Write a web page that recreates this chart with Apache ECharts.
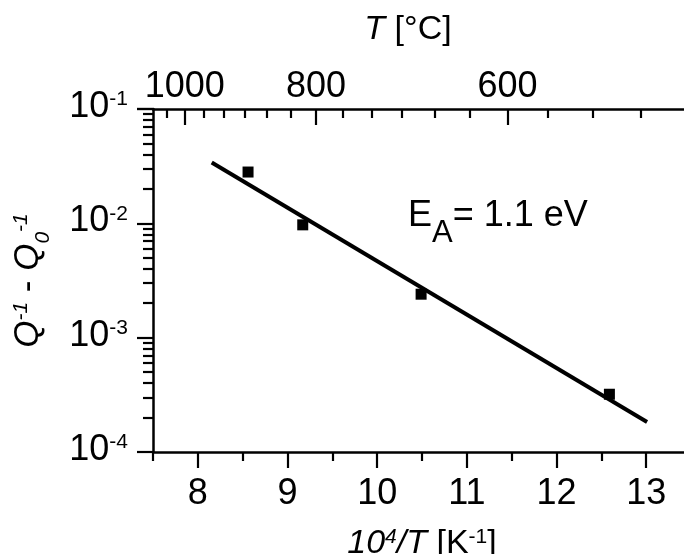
<!DOCTYPE html>
<html>
<head>
<meta charset="utf-8">
<script src="https://cdn.jsdelivr.net/npm/echarts@6/dist/echarts.min.js"></script>
<style>
  html, body { margin: 0; padding: 0; background: #fff; }
  #chart { width: 684px; height: 554px; }
</style>
</head>
<body>
<div id="chart"></div>
<script>
// measured points (10^4/T vs Q^-1 - Q0^-1)
const invT = [8.56, 9.17, 10.49, 12.59];
const dampQ = [0.0281, 0.0097, 0.0024, 0.00032];
// Arrhenius fit line end points
const fitX = [8.155, 13.01];
const fitY = [0.034, 0.000183];
// bottom axis ticks
const xMajor = [8, 9, 10, 11, 12, 13];
const xMinor = [7.5, 8.5, 9.5, 10.5, 11.5, 12.5, 13.5];
// top axis ticks in degC
const tMajor = [1000, 800, 600];
const tMinor = [1033.3, 966.7, 933.3, 900, 866.7, 833.3, 766.7, 733.3, 700, 666.7, 633.3, 566.7, 533.3, 500];

const toInv = t => 1e4 / (t + 273.15);
const FONT = 'Liberation Sans';
const black = '#000';

const chart = echarts.init(document.getElementById('chart'));

const gridBox = { left: 153, top: 109, right: -7, bottom: 102, outerBoundsMode: 'none', containLabel: false };

const supRich = {
    n: { fontSize: 36, fontFamily: FONT, color: black, verticalAlign: 'top', lineHeight: 40 },
    e: { fontSize: 21, fontFamily: FONT, color: black, verticalAlign: 'top', lineHeight: 22 }
};

const option = {
    animation: false,
    grid: [
        Object.assign({}, gridBox),
        Object.assign({}, gridBox)
    ],
    xAxis: [
        {   // bottom, major ticks + labels
            type: 'value', gridIndex: 0, position: 'bottom',
            min: 7.5, max: 13.5,
            splitLine: { show: false },
            axisLine: { lineStyle: { color: black, width: 2.5 } },
            axisTick: { customValues: xMajor, length: 16, lineStyle: { color: black, width: 2.2 } },
            axisLabel: { customValues: xMajor, fontSize: 36, fontFamily: FONT, color: black, margin: 24 },
            name: '{i|10}{sp|4}{i|/T}{t| [K}{s2|-1}{t|]}',
            nameLocation: 'middle', nameGap: 75,
            nameTextStyle: {
                rich: {
                    i: { fontSize: 34, fontFamily: FONT, fontStyle: 'italic', color: black, verticalAlign: 'top', lineHeight: 38 },
                    sp: { fontSize: 21, fontFamily: FONT, fontStyle: 'italic', color: black, verticalAlign: 'top', lineHeight: 22 },
                    t: { fontSize: 34, fontFamily: FONT, color: black, verticalAlign: 'top', lineHeight: 38 },
                    s2: { fontSize: 21, fontFamily: FONT, color: black, verticalAlign: 'top', lineHeight: 22 }
                }
            }
        },
        {   // top, degC major ticks + labels
            type: 'value', gridIndex: 0, position: 'top',
            min: 7.5, max: 13.5,
            splitLine: { show: false },
            axisLine: { lineStyle: { color: black, width: 2.5 } },
            axisTick: { inside: true, customValues: tMajor.map(toInv), length: 16, lineStyle: { color: black, width: 2.2 } },
            axisLabel: {
                customValues: tMajor.map(toInv), fontSize: 36, fontFamily: FONT, color: black, margin: 4,
                formatter: v => String(Math.round(1e4 / v - 273.15))
            },
            name: '{i|T}{t| [°C]}',
            nameLocation: 'middle', nameGap: 62,
            nameTextStyle: {
                padding: [0, 28, 0, 0],
                rich: {
                    i: { fontSize: 34, fontFamily: FONT, fontStyle: 'italic', color: black },
                    t: { fontSize: 34, fontFamily: FONT, color: black }
                }
            }
        },
        {   // bottom minor ticks
            type: 'value', gridIndex: 1, position: 'bottom',
            min: 7.5, max: 13.5,
            splitLine: { show: false },
            axisLine: { show: false },
            axisTick: { customValues: xMinor, length: 9, lineStyle: { color: black, width: 2.2 } },
            axisLabel: { show: false }
        },
        {   // top minor ticks
            type: 'value', gridIndex: 1, position: 'top',
            min: 7.5, max: 13.5,
            splitLine: { show: false },
            axisLine: { show: false },
            axisTick: { inside: true, customValues: tMinor.map(toInv), length: 9, lineStyle: { color: black, width: 2.2 } },
            axisLabel: { show: false }
        }
    ],
    yAxis: [
        {
            type: 'log', gridIndex: 0, logBase: 10,
            min: 1e-4, max: 1e-1,
            splitLine: { show: false },
            axisLine: { show: true, lineStyle: { color: black, width: 2.5 } },
            axisTick: { show: true, length: 16, lineStyle: { color: black, width: 2.2 } },
            minorTick: { show: true, splitNumber: 9, length: 10, lineStyle: { color: black, width: 2.2 } },
            axisLabel: {
                margin: 25,
                formatter: v => '{n|10}{e|' + Math.round(Math.log10(v)) + '}',
                rich: supRich
            },
            name: '{q|Q}{sp|-1}{t| - }{q|Q}{sb|0}{sp|-1}',
            nameLocation: 'middle', nameGap: 102,
            nameTextStyle: {
                rich: {
                    q: { fontSize: 35, fontFamily: FONT, fontStyle: 'italic', color: black, verticalAlign: 'top', lineHeight: 40 },
                    t: { fontSize: 35, fontFamily: FONT, color: black, verticalAlign: 'top', lineHeight: 40 },
                    sp: { fontSize: 21, fontFamily: FONT, fontStyle: 'italic', color: black, verticalAlign: 'top', lineHeight: 22 },
                    sb: { fontSize: 21, fontFamily: FONT, fontStyle: 'italic', color: black, verticalAlign: 'top', lineHeight: 22, padding: [22, 0, 0, 0] }
                }
            }
        },
        { type: 'value', gridIndex: 1, show: false, min: 0, max: 1 }
    ],
    graphic: [
        {
            type: 'text', left: 408, top: 198,
            style: {
                text: '{m|E}{s|A}{m|= 1.1 eV}',
                rich: {
                    m: { fontSize: 36, fontFamily: FONT, fill: black, verticalAlign: 'top', lineHeight: 40 },
                    s: { fontSize: 31, fontFamily: FONT, fill: black, verticalAlign: 'top', lineHeight: 34, padding: [20, 0, 0, 0] }
                }
            }
        }
    ],
    series: [
        {
            type: 'line', xAxisIndex: 0, yAxisIndex: 0,
            data: fitX.map((x, i) => [x, fitY[i]]),
            showSymbol: false, symbol: 'none',
            lineStyle: { color: black, width: 4 },
            z: 2
        },
        {
            type: 'scatter', xAxisIndex: 0, yAxisIndex: 0,
            data: invT.map((x, i) => [x, dampQ[i]]),
            symbol: 'rect', symbolSize: 11,
            itemStyle: { color: black, opacity: 1 },
            z: 3
        }
    ]
};

chart.setOption(option);
</script>
</body>
</html>
